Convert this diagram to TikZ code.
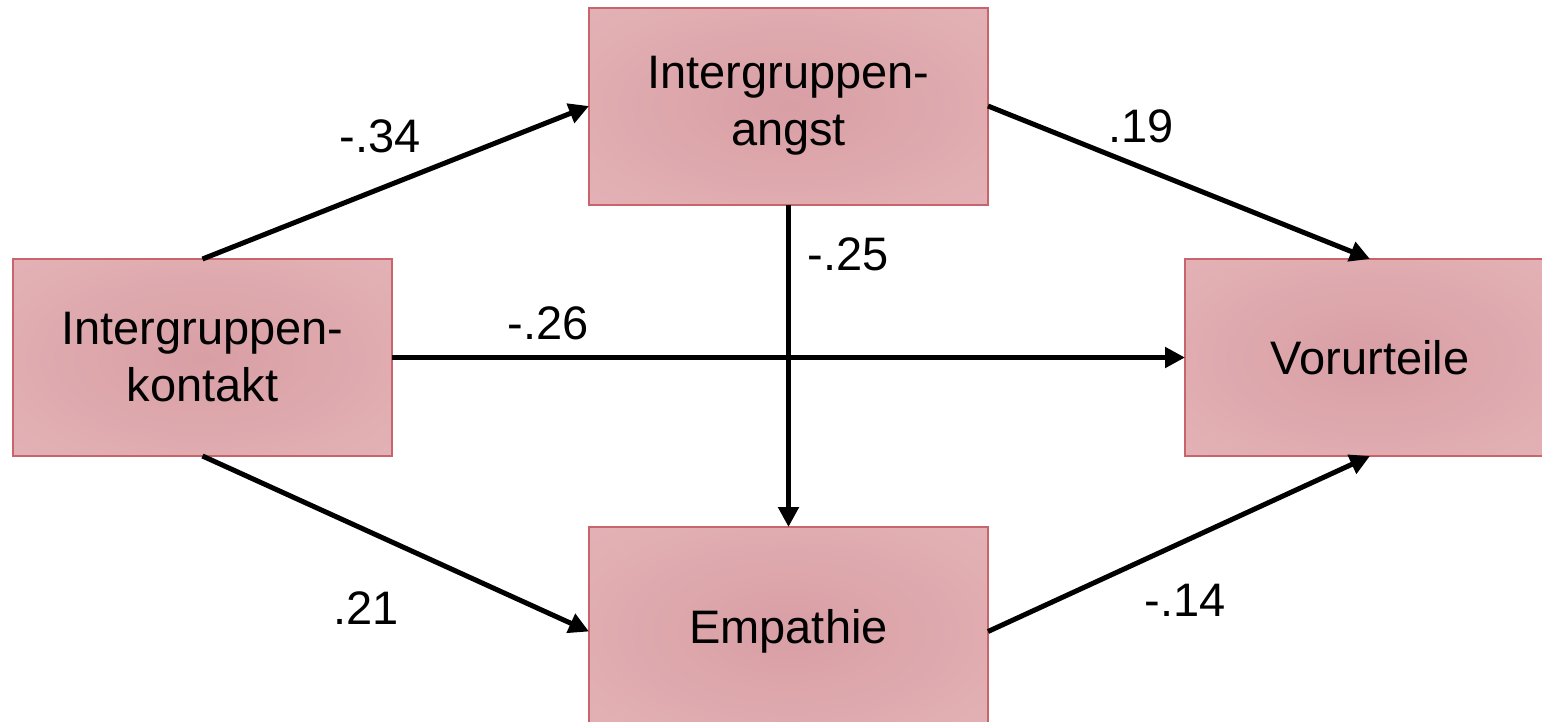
\documentclass[tikz,border=0pt]{standalone}
\usepackage{fontspec}
\setmainfont{Liberation Sans}
\usetikzlibrary{arrows.meta}
\definecolor{boxin}{HTML}{D89FA5}
\definecolor{boxmid}{HTML}{E1AEB2}
\definecolor{boxout}{HTML}{E8B8BC}
\definecolor{boxline}{HTML}{C8646C}
% soft radial fill that keeps fading all the way to the corners
\pgfdeclareradialshading{boxfill}{\pgfpoint{0bp}{0bp}}{%
  color(0bp)=(boxin); color(28bp)=(boxmid); color(50bp)=(boxout); color(72bp)=(boxout)}
\tikzset{
  varbox/.style={rectangle, draw=boxline, line width=2pt, inner sep=0pt, outer sep=0pt,
    shading=boxfill, align=center, font=\fontsize{47}{57}\selectfont},
  path/.style={line width=5pt, -{Triangle[length=20pt,width=20pt]}},
  coef/.style={font=\fontsize{47}{57}\selectfont, inner sep=0pt}
}
\begin{document}
\begin{tikzpicture}[x=1pt,y=-1pt]
\useasboundingbox (0,0) rectangle (1542,721);
\node[varbox, minimum width=379pt, minimum height=197pt] (K) at (202.5,357.5) {Intergruppen-\\kontakt};
\node[varbox, minimum width=399pt, minimum height=197pt] (A) at (788.5,106) {Intergruppen-\\angst};
\node[varbox, minimum width=399pt, minimum height=209pt] (E) at (788.5,631.5) {Empathie};
\node[varbox, minimum width=370pt, minimum height=197pt] (V) at (1370,357.5) {Vorurteile};

\draw[path] (K.north) -- (A.west);
\draw[path] (A.east) -- (V.north);
\draw[path] (K.east) -- (V.west);
\draw[path] (A.south) -- (E.north);
\draw[path] (K.south) -- (E.west);
\draw[path] (E.east) -- (V.south);

\node[coef] (c1) at (380,136) {-.34};
\node[coef] (c2) at (1141,126) {.19};
\node[coef] (c3) at (848,254) {-.25};
\node[coef] (c4) at (548,323) {-.26};
\node[coef] (c5) at (366,608) {.21};
\node[coef] (c6) at (1185,600) {-.14};
\end{tikzpicture}
\end{document}
